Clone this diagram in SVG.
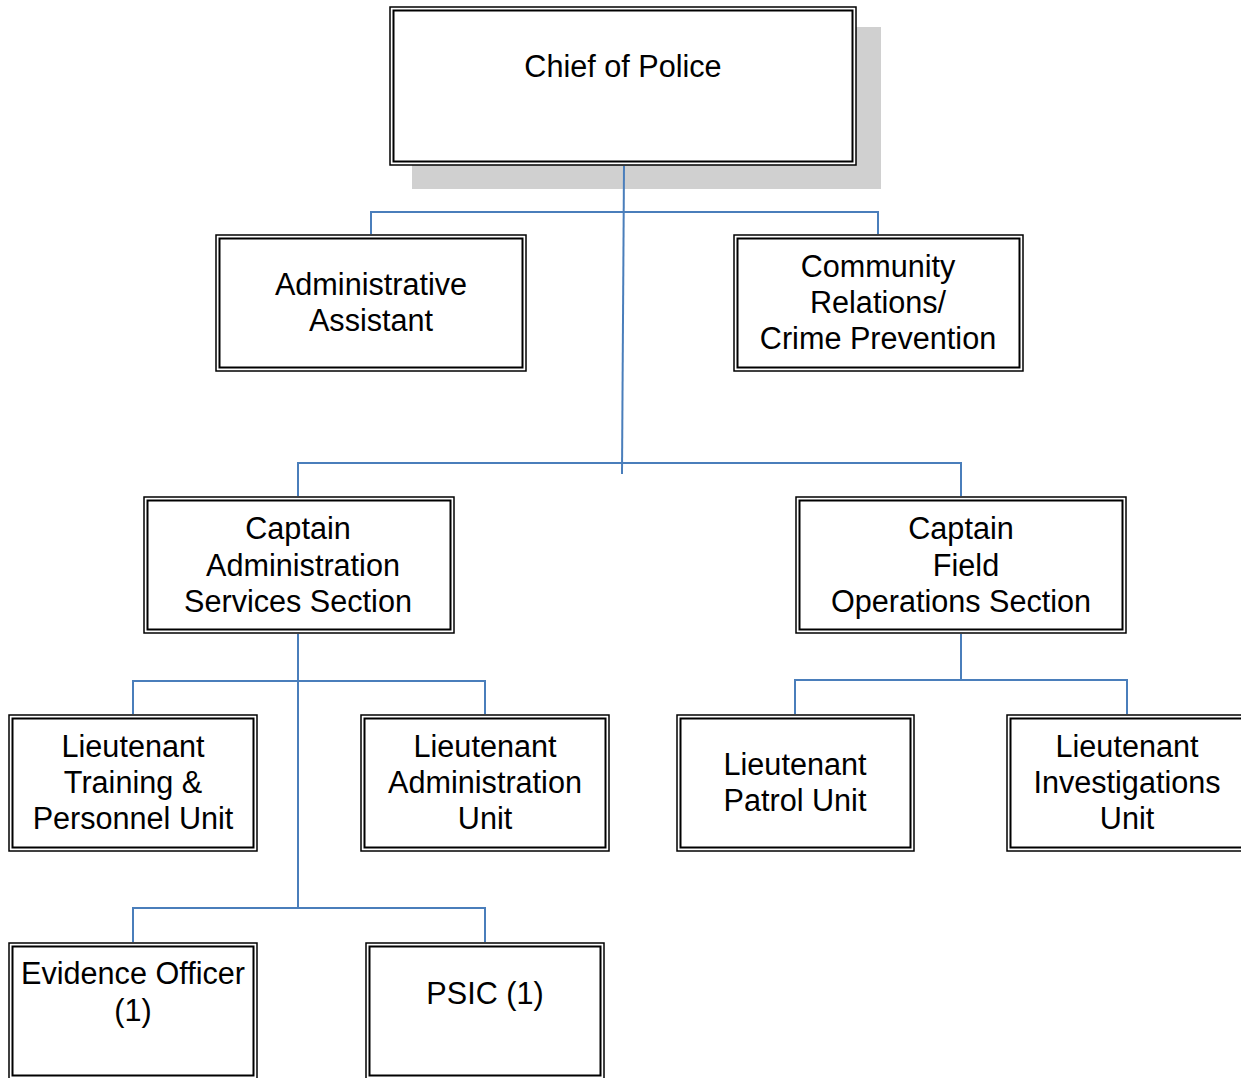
<svg xmlns="http://www.w3.org/2000/svg" width="1241" height="1078" viewBox="0 0 1241 1078">
<style>
.o{fill:none;stroke:#000;stroke-width:1.5}
.i{fill:none;stroke:#000;stroke-width:2}
.bg{fill:#fff}
.t{font-family:"Liberation Sans",Arial,sans-serif;font-size:30.6px;fill:#000;text-anchor:middle}
.c{fill:none;stroke:#4A7EBB;stroke-width:2}
</style>
<rect x="0" y="0" width="1241" height="1078" fill="#fff"/>
<g id="chief">
<rect x="412" y="27" width="469" height="162" fill="#d0d0d0"/>
<rect class="bg" x="390" y="7" width="466" height="158"/>
<rect class="o" x="390" y="7" width="466" height="158"/>
<rect class="i" x="393.5" y="10.5" width="459" height="151"/>
<text class="t" x="623" y="77">Chief of Police</text>
</g>
<g id="admin-assistant">
<rect class="bg o" x="216" y="235" width="310" height="136"/>
<rect class="i" x="219.5" y="238.5" width="303" height="129"/>
<text class="t" x="371" y="295">Administrative</text>
<text class="t" x="371" y="331">Assistant</text>
</g>
<g id="community-relations">
<rect class="bg o" x="734" y="235" width="289" height="136"/>
<rect class="i" x="737.5" y="238.5" width="282" height="129"/>
<text class="t" x="878" y="277">Community</text>
<text class="t" x="878" y="313">Relations/</text>
<text class="t" x="878" y="349">Crime Prevention</text>
</g>
<g id="captain-admin">
<rect class="bg o" x="144" y="497" width="310" height="136"/>
<rect class="i" x="147.5" y="500.5" width="303" height="129"/>
<text class="t" x="298" y="539">Captain</text>
<text class="t" x="303" y="576">Administration</text>
<text class="t" x="298" y="612">Services Section</text>
</g>
<g id="captain-field">
<rect class="bg o" x="796" y="497" width="330" height="136"/>
<rect class="i" x="799.5" y="500.5" width="323" height="129"/>
<text class="t" x="961" y="539">Captain</text>
<text class="t" x="966" y="576">Field</text>
<text class="t" x="961" y="612">Operations Section</text>
</g>
<g id="lt-training">
<rect class="bg o" x="9" y="715" width="248" height="136"/>
<rect class="i" x="12.5" y="718.5" width="241" height="129"/>
<text class="t" x="133" y="757">Lieutenant</text>
<text class="t" x="133" y="793">Training &amp;</text>
<text class="t" x="133" y="829">Personnel Unit</text>
</g>
<g id="lt-admin">
<rect class="bg o" x="361" y="715" width="248" height="136"/>
<rect class="i" x="364.5" y="718.5" width="241" height="129"/>
<text class="t" x="485" y="757">Lieutenant</text>
<text class="t" x="485" y="793">Administration</text>
<text class="t" x="485" y="829">Unit</text>
</g>
<g id="lt-patrol">
<rect class="bg o" x="677" y="715" width="237" height="136"/>
<rect class="i" x="680.5" y="718.5" width="230" height="129"/>
<text class="t" x="795" y="775">Lieutenant</text>
<text class="t" x="795" y="811">Patrol Unit</text>
</g>
<g id="lt-investigations">
<rect class="bg o" x="1007" y="715" width="252" height="136"/>
<rect class="i" x="1010.5" y="718.5" width="245" height="129"/>
<text class="t" x="1127" y="757">Lieutenant</text>
<text class="t" x="1127" y="793">Investigations</text>
<text class="t" x="1127" y="829">Unit</text>
</g>
<g id="evidence-officer">
<rect class="bg o" x="9" y="943" width="248" height="138"/>
<rect class="i" x="12.5" y="946.5" width="241" height="129"/>
<text class="t" x="133" y="984">Evidence Officer</text>
<text class="t" x="133" y="1021">(1)</text>
</g>
<g id="psic">
<rect class="bg o" x="366" y="943" width="238" height="138"/>
<rect class="i" x="369.5" y="946.5" width="231" height="129"/>
<text class="t" x="485" y="1004">PSIC (1)</text>
</g>
<g id="connectors">
<path class="c" d="M624 166 L622 474"/>
<path class="c" d="M371 234 V212 H878 V234"/>
<path class="c" d="M298 496 V463 H961 V496"/>
<path class="c" d="M298 634 V908"/>
<path class="c" d="M133 714 V681 H485 V714"/>
<path class="c" d="M133 942 V908 H485 V942"/>
<path class="c" d="M961 634 V680"/>
<path class="c" d="M795 714 V680 H1127 V714"/>
</g>
</svg>
